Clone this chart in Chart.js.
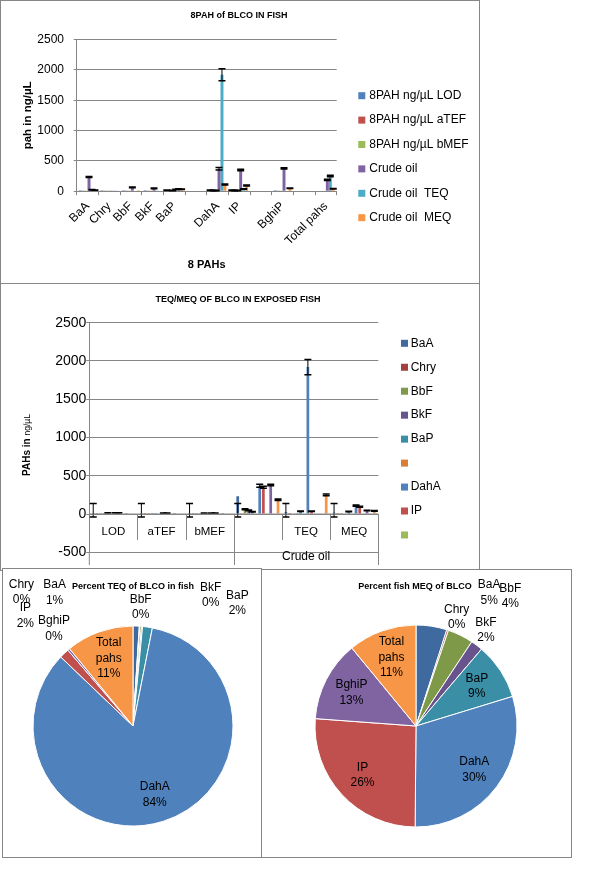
<!DOCTYPE html>
<html lang="en">
<head>
<meta charset="UTF-8">
<title>8PAH of BLCO in fish</title>
<script src="https://cdn.jsdelivr.net/npm/chart.js"></script>
<style>
  body { margin: 0; background: #fff; }
  .panel { position: absolute; box-sizing: border-box; border: 1px solid #868686; background: #fff; }
  canvas { display: block; }
</style>
</head>
<body>
  <div class="panel" style="left:0;top:0;width:480px;height:284px"><canvas id="pahChart" width="478" height="282"></canvas></div>
  <div class="panel" style="left:0;top:283px;width:480px;height:288px"><canvas id="teqMeqChart" width="478" height="286"></canvas></div>
  <div class="panel" style="left:2px;top:568px;width:260px;height:290px"><canvas id="teqPie" width="258" height="288"></canvas></div>
  <div class="panel" style="left:261px;top:569px;width:311px;height:289px"><canvas id="meqPie" width="309" height="287"></canvas></div>

<script>
  // categories
  const pahs = ['BaA', 'Chry', 'BbF', 'BkF', 'BaP', '', 'DahA', 'IP', '', 'BghiP', '', 'Total pahs'];
  const measures = ['LOD', 'aTEF', 'bMEF', '', 'TEQ', 'MEQ'];
  const measureGroups = ['', '', '', 'Crude oil', 'Crude oil', 'Crude oil'];
  const seriesNames = ['8PAH ng/\u00b5L LOD', '8PAH ng/\u00b5L aTEF', '8PAH ng/\u00b5L bMEF', 'Crude oil', 'Crude oil  TEQ', 'Crude oil  MEQ'];

  // values in ng/uL, one entry per pah
  const lodVals   = [15, 15, 15, 15, 15, 0, 15, 15, 0, 15, 0, 0];
  const atefVals  = [12, 12, 12, 12, 12, 0, 12, 12, 0, 12, 0, 0];
  const bmefVals  = [12, 12, 12, 12, 12, 0, 12, 12, 0, 12, 0, 0];
  const crudeVals = [233, 5, 62, 48, 30, 0, 370, 350, 0, 378, 0, 188];
  const teqVals   = [23, 2, 6, 4, 36, 0, 1920, 36, 0, 8, 0, 250];
  const meqVals   = [18, 1, 15, 7, 33, 0, 109, 95, 0, 47, 0, 40];

  // error bars (+/-)
  const lodErr   = [0, 0, 0, 0, 3, 0, 3, 3, 0, 0, 0, 0];
  const atefErr  = [0, 0, 0, 0, 0, 0, 3, 3, 0, 0, 0, 0];
  const bmefErr  = [0, 0, 0, 0, 3, 0, 3, 3, 0, 0, 0, 0];
  const crudeErr = [8, 0, 6, 6, 4, 0, 20, 12, 0, 10, 0, 10];
  const teqErr   = [4, 0, 0, 0, 4, 0, 100, 4, 0, 0, 0, 12];
  const meqErr   = [3, 0, 0, 0, 4, 0, 8, 8, 0, 4, 0, 5];
  const baaErrRange = [-40, 136];   // BaA bars in the TEQ/MEQ chart carry this fixed range

  const yTicks1 = { min: 0, max: 2500, step: 500 };
  const yTicks2 = { min: -500, max: 2500, step: 500 };

  const baseColors = ['#4F81BD', '#C0504D', '#9BBB59', '#8064A2', '#4BACC6', '#F79646'];
  const darkColors = ['#3F6A9F', '#A4403D', '#7E9A48', '#68538C', '#3A8EA5', '#D87E37'];
  const pahColors = darkColors.concat(baseColors);
  const gray = '#868686';
  const FONT = '"Liberation Sans", Arial, sans-serif';

  Chart.defaults.font.family = FONT;
  Chart.defaults.color = '#000';
  Chart.defaults.animation = false;
  Chart.defaults.plugins.tooltip.enabled = false;
  Chart.defaults.plugins.legend.display = false;

  const byMeasure = [lodVals, atefVals, bmefVals, crudeVals, teqVals, meqVals];
  const errByMeasure = [lodErr, atefErr, bmefErr, crudeErr, teqErr, meqErr];
  const plainNumber = v => String(v);

  // ---- plugins ----
  const errorBars = {
    id: 'errorBars',
    afterDatasetsDraw(chart) {
      const ctx = chart.ctx, y = chart.scales.y;
      ctx.save();
      ctx.strokeStyle = '#000';
      chart.data.datasets.forEach((ds, di) => {
        if (!ds.errorBars) return;
        chart.getDatasetMeta(di).data.forEach((bar, i) => {
          const e = ds.errorBars[i];
          if (!e) return;
          const lo = Array.isArray(e) ? e[0] : ds.data[i] - e;
          const hi = Array.isArray(e) ? e[1] : ds.data[i] + e;
          const yl = y.getPixelForValue(lo), yh = y.getPixelForValue(hi);
          ctx.lineWidth = 1;
          ctx.beginPath();
          ctx.moveTo(bar.x, yl); ctx.lineTo(bar.x, yh);
          ctx.stroke();
          ctx.lineWidth = 1.5;
          ctx.beginPath();
          ctx.moveTo(bar.x - 3.5, yl); ctx.lineTo(bar.x + 3.5, yl);
          ctx.moveTo(bar.x - 3.5, yh); ctx.lineTo(bar.x + 3.5, yh);
          ctx.stroke();
        });
      });
      ctx.restore();
    }
  };

  const sideLegend = {
    id: 'sideLegend',
    afterDraw(chart, args, opts) {
      const ctx = chart.ctx;
      ctx.save();
      ctx.font = '12px ' + FONT;
      ctx.textBaseline = 'middle';
      chart.data.datasets.slice(0, opts.count).forEach((ds, i) => {
        const y = opts.y + i * opts.step;
        ctx.fillStyle = ds.backgroundColor;
        ctx.fillRect(opts.x, y - 3.5, 7, 7);
        ctx.fillStyle = '#000';
        ctx.fillText(ds.label, opts.textX, y);
      });
      ctx.restore();
    }
  };

  const texts = {
    id: 'texts',
    afterDraw(chart, args, opts) {
      const ctx = chart.ctx;
      ctx.save();
      ctx.textAlign = 'center';
      ctx.textBaseline = 'middle';
      ctx.fillStyle = '#000';
      (opts.items || []).forEach(t => {
        ctx.font = t.font;
        ctx.fillText(t.text, t.x, t.y);
      });
      ctx.restore();
    }
  };

  // y title with two fonts, plus the two-level category axis
  const groupAxis = {
    id: 'groupAxis',
    afterDraw(chart, args, opts) {
      const { ctx, scales: { x, y } } = chart;
      const y0 = y.getPixelForValue(0);
      const n = chart.data.labels.length;
      const w = (x.right - x.left) / n;
      ctx.save();
      ctx.strokeStyle = gray;
      ctx.lineWidth = 1;
      ctx.beginPath();
      ctx.moveTo(x.left, y0); ctx.lineTo(x.right, y0);
      ctx.moveTo(x.left, chart.chartArea.bottom); ctx.lineTo(x.left, opts.bottom);
      for (let k = 1; k <= n; k++) {
        const bx = Math.round(x.left + k * w) + 0.5;
        const long = k === n || opts.groups[k] !== opts.groups[k - 1];
        ctx.moveTo(bx, y0);
        ctx.lineTo(bx, long ? opts.bottom : y0 + 26);
      }
      ctx.stroke();
      ctx.fillStyle = '#000';
      ctx.textAlign = 'center';
      ctx.textBaseline = 'middle';
      ctx.font = '11.5px ' + FONT;
      chart.data.labels.forEach((l, i) => ctx.fillText(l, x.left + (i + 0.5) * w, opts.labelY));
      ctx.font = '12px ' + FONT;
      let s = 0;
      for (let i = 1; i <= n; i++) {
        if (i === n || opts.groups[i] !== opts.groups[s]) {
          if (opts.groups[s]) ctx.fillText(opts.groups[s], x.left + (s + i) / 2 * w, opts.groupY);
          s = i;
        }
      }
      // axis title
      ctx.translate(opts.titleX, opts.titleY);
      ctx.rotate(-Math.PI / 2);
      ctx.textAlign = 'left';
      const f1 = 'bold 10px ' + FONT, f2 = '8.5px ' + FONT;
      ctx.font = f1; const w1 = ctx.measureText('PAHs in ').width;
      ctx.font = f2; const w2 = ctx.measureText('ng/\u00b5L').width;
      ctx.font = f1; ctx.fillText('PAHs in ', -(w1 + w2) / 2, 0);
      ctx.font = f2; ctx.fillText('ng/\u00b5L', -(w1 + w2) / 2 + w1, 1);
      ctx.restore();
    }
  };

  const pieLabels = {
    id: 'pieLabels',
    afterDatasetsDraw(chart, args, opts) {
      const ctx = chart.ctx;
      const ds = chart.data.datasets[0];
      const total = ds.data.reduce((a, b) => a + b, 0);
      ctx.save();
      ctx.font = '12px ' + FONT;
      ctx.fillStyle = '#000';
      ctx.textAlign = 'center';
      ctx.textBaseline = 'middle';
      chart.getDatasetMeta(0).data.forEach((arc, i) => {
        const name = chart.data.labels[i];
        if (!name) return;
        const lines = name.split(' ').concat(Math.round(ds.data[i] / total * 100) + '%');
        let pos = opts.outside[name];
        if (!pos) {
          const mid = (arc.startAngle + arc.endAngle) / 2;
          const r = arc.outerRadius * opts.ratio;
          pos = [arc.x + r * Math.cos(mid), arc.y + r * Math.sin(mid)];
        }
        const top = pos[1] - (lines.length - 1) * opts.lineH / 2;
        lines.forEach((l, k) => ctx.fillText(l, pos[0], top + k * opts.lineH));
      });
      ctx.restore();
    }
  };

  // ---- chart 1: 8PAH of BLCO in fish ----
  new Chart(document.getElementById('pahChart'), {
    type: 'bar',
    data: {
      labels: pahs,
      datasets: seriesNames.map((name, i) => ({
        label: name,
        data: byMeasure[i],
        backgroundColor: baseColors[i],
        errorBars: errByMeasure[i],
        categoryPercentage: 0.82,
        barPercentage: 1
      }))
    },
    options: {
      responsive: false,
      layout: { padding: { top: 38.6, right: 142.3, bottom: 0, left: 0 } },
      plugins: {
        sideLegend: { count: 6, x: 357.3, textX: 368.3, y: 94.7, step: 24.4 },
        texts: { items: [{ text: '8PAH of BLCO IN FISH', x: 238, y: 15, font: 'bold 9px ' + FONT }] }
      },
      scales: {
        x: {
          grid: { offset: true, drawOnChartArea: false, tickLength: 4, color: gray },
          border: { color: gray },
          ticks: { autoSkip: false, minRotation: 45, maxRotation: 45, padding: 4, font: { size: 12 } },
          title: { display: true, text: '8 PAHs', font: { size: 11, weight: 'bold' }, padding: { top: 0, bottom: 11.4 } },
          afterFit: s => { s.height = 282 - 190.2; }
        },
        y: {
          min: yTicks1.min, max: yTicks1.max,
          ticks: { stepSize: yTicks1.step, padding: 9.7, font: { size: 12 }, callback: plainNumber },
          grid: { color: gray, tickLength: 3 },
          border: { color: gray },
          title: { display: true, text: 'pah in ng/\u00b5L', font: { size: 11.5, weight: 'bold' }, padding: { top: 20, bottom: 0 } },
          afterFit: s => { s.width = 75.7; }
        }
      }
    },
    plugins: [errorBars, sideLegend, texts]
  });

  // ---- chart 2: TEQ/MEQ of BLCO in exposed fish ----
  new Chart(document.getElementById('teqMeqChart'), {
    type: 'bar',
    data: {
      labels: measures,
      datasets: pahs.map((name, i) => ({
        label: name,
        data: measures.map((m, j) => byMeasure[j][i]),
        backgroundColor: pahColors[i],
        errorBars: i === 0 ? measures.map(() => baaErrRange) : measures.map((m, j) => errByMeasure[j][i]),
        categoryPercentage: 0.913,
        barPercentage: 0.74
      }))
    },
    options: {
      responsive: false,
      layout: { padding: { top: 38.7, right: 100.7, bottom: 17.7, left: 0 } },
      plugins: {
        sideLegend: { count: 9, x: 400, textX: 409.7, y: 59.3, step: 23.96 },
        texts: { items: [{ text: 'TEQ/MEQ OF BLCO IN EXPOSED FISH', x: 237, y: 16, font: 'bold 9px ' + FONT }] },
        groupAxis: { groups: measureGroups, bottom: 281, labelY: 248.3, groupY: 272.7, titleX: 26, titleY: 161 }
      },
      scales: {
        x: { display: false },
        y: {
          min: yTicks2.min, max: yTicks2.max,
          ticks: { stepSize: yTicks2.step, padding: 0, font: { size: 14 }, callback: plainNumber },
          grid: { color: gray, tickLength: 3 },
          border: { color: gray },
          afterFit: s => { s.width = 88.3; }
        }
      }
    },
    plugins: [errorBars, sideLegend, texts, groupAxis]
  });

  // ---- pies ----
  function pie(id, values, pad, radius, title, outside) {
    new Chart(document.getElementById(id), {
      type: 'pie',
      data: {
        labels: pahs,
        datasets: [{ data: values, backgroundColor: pahColors, borderColor: '#fff', borderWidth: 1 }]
      },
      options: {
        responsive: false,
        radius: radius,
        layout: { padding: pad },
        plugins: {
          texts: { items: [title] },
          pieLabels: { outside: outside, ratio: 0.72, lineH: 15.5 }
        }
      },
      plugins: [texts, pieLabels]
    });
  }

  pie('teqPie', teqVals, { left: 30, right: 28, top: 57, bottom: 31 }, 100,
    { text: 'Percent TEQ of BLCO in fish', x: 130, y: 18, font: 'bold 9px ' + FONT },
    { Chry: [18.4, 23.2], BaA: [51.6, 23.5], IP: [22.3, 46.8], BghiP: [51, 59.8],
      BbF: [137.7, 38.2], BkF: [207.7, 26.3], BaP: [234.3, 34.2] });

  pie('meqPie', meqVals, { left: 53, right: 54, top: 55, bottom: 30 }, 101,
    { text: 'Percent fish MEQ of BLCO', x: 153, y: 17, font: 'bold 9px ' + FONT },
    { BaA: [227.2, 22.5], BbF: [248.3, 26], Chry: [194.7, 47.2], BkF: [224, 60.3] });
</script>
</body>
</html>
